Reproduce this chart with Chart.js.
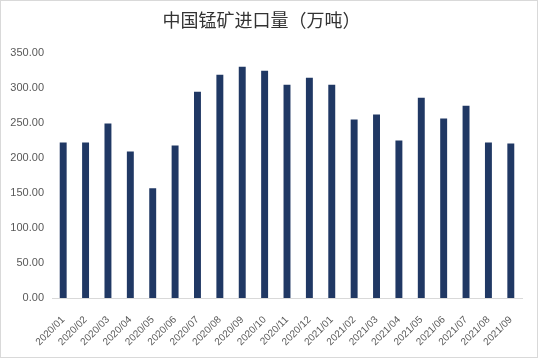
<!DOCTYPE html>
<html>
<head>
<meta charset="utf-8">
<script src="https://cdn.jsdelivr.net/npm/chart.js@4"></script>
<style>
html,body{margin:0;padding:0;background:#fff;}
#wrap{position:relative;width:536px;height:356px;border:1px solid #d9d9d9;}
canvas{display:block;}
</style>
</head>
<body>
<div id="wrap"><canvas id="c" width="536" height="356"></canvas></div>
<script>
const chartTitle = "中国锰矿进口量（万吨）";
const categories = ["2020/01","2020/02","2020/03","2020/04","2020/05","2020/06","2020/07","2020/08","2020/09","2020/10","2020/11","2020/12","2021/01","2021/02","2021/03","2021/04","2021/05","2021/06","2021/07","2021/08","2021/09"];
const importValues = [221.8,221.8,248.8,209.0,156.5,217.6,294.2,318.3,329.7,324.0,304.1,314.0,304.1,254.5,261.6,224.7,285.7,255.9,274.3,221.8,220.4];
const yTicks = [0,50,100,150,200,250,300,350];

new Chart(document.getElementById('c'), {
  type: 'bar',
  data: {
    labels: categories,
    datasets: [{
      label: chartTitle,
      data: importValues,
      backgroundColor: '#203864',
      borderWidth: 0,
      barPercentage: 0.31,
      categoryPercentage: 1.0
    }]
  },
  options: {
    responsive: false,
    animation: false,
    layout: { padding: { left: 0, right: 15, top: 0, bottom: 0 } },
    plugins: {
      legend: { display: false },
      tooltip: { enabled: false },
      title: {
        display: true,
        text: chartTitle,
        color: '#333333',
        font: { family: '"Noto Sans CJK SC", sans-serif', size: 18, weight: 'normal' },
        padding: { top: 8, bottom: 22 }
      }
    },
    scales: {
      y: {
        min: 0, max: 350,
        afterBuildTicks: (axis) => { axis.ticks = yTicks.map(v => ({ value: v })); },
        afterFit: (axis) => { axis.width = 51; },
        grid: { display: false, drawTicks: false },
        border: { display: false },
        ticks: {
          color: '#595959',
          font: { family: '"Liberation Sans", Arial, sans-serif', size: 11 },
          padding: 8,
          callback: (v) => Number(v).toFixed(2)
        }
      },
      x: {
        afterFit: (axis) => { axis.height = 59; },
        grid: { display: false, drawTicks: false },
        border: { display: true, color: '#d9d9d9', width: 1 },
        ticks: {
          color: '#595959',
          font: { family: '"Liberation Sans", Arial, sans-serif', size: 10 },
          minRotation: 45, maxRotation: 45,
          autoSkip: false,
          padding: 16
        }
      }
    }
  }
});
</script>
</body>
</html>
